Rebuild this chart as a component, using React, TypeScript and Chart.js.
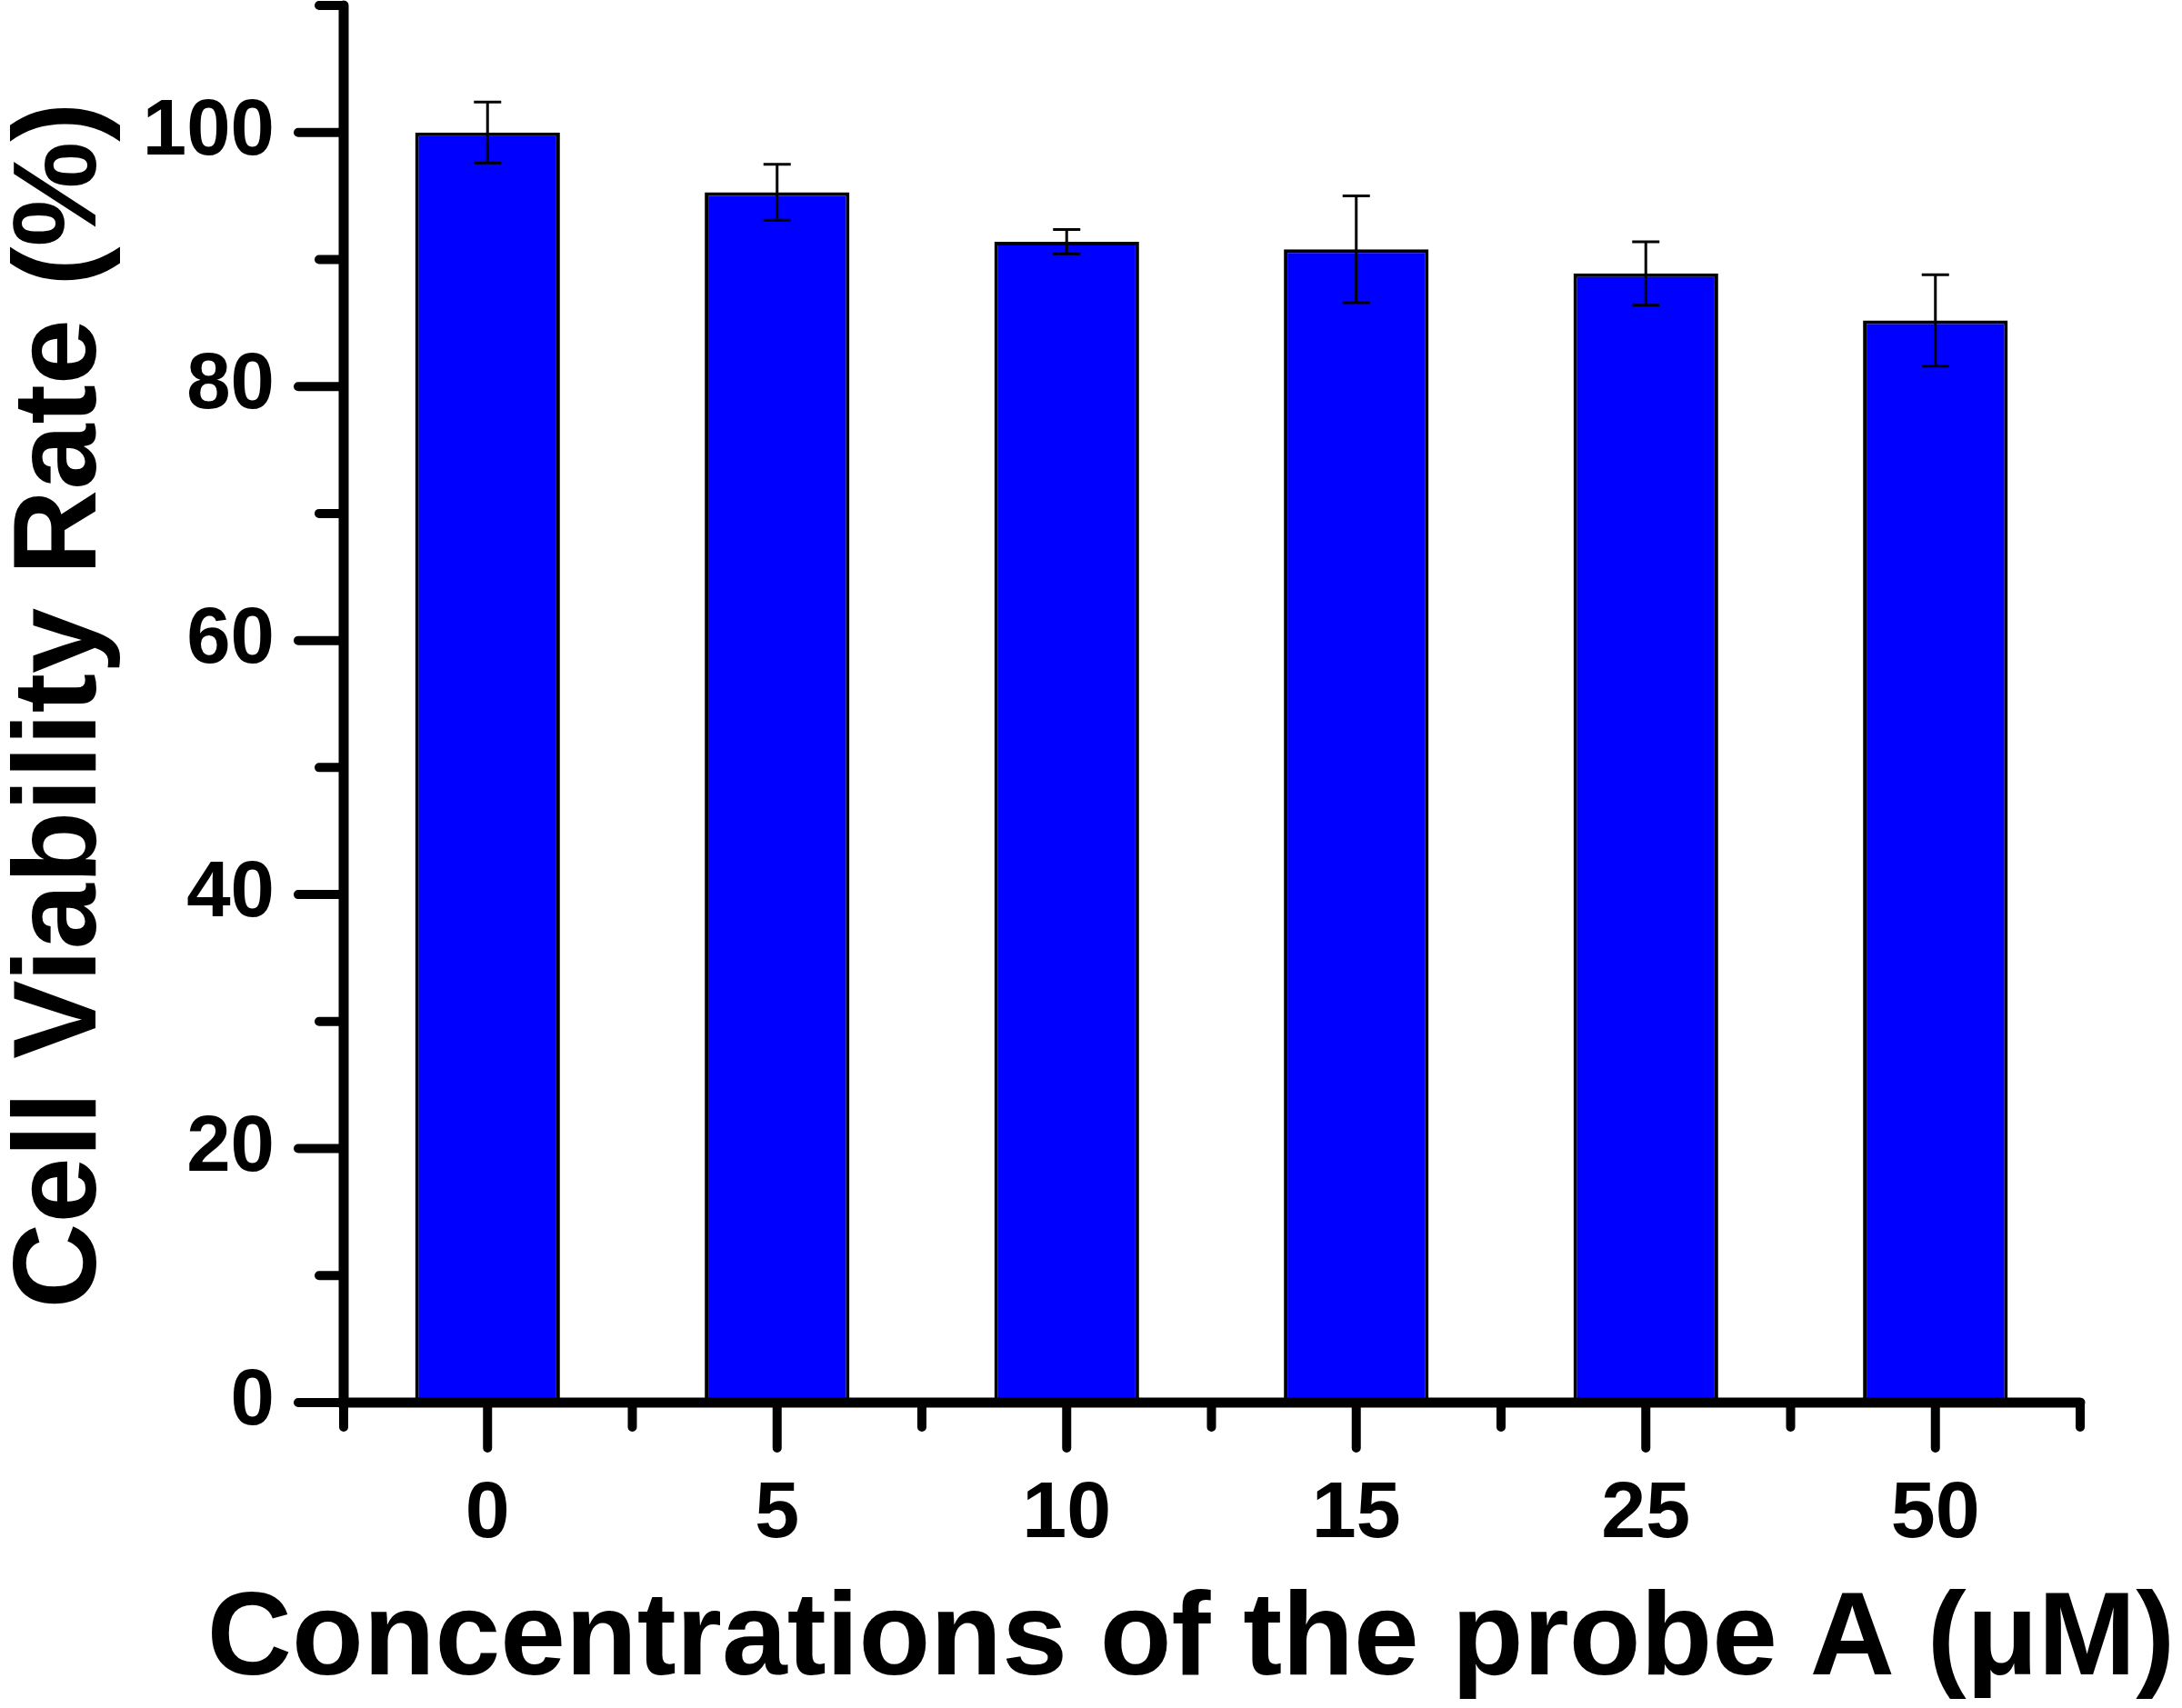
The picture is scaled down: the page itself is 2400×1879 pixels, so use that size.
import React, { useEffect, useRef } from 'react';
import { Chart, registerables } from 'chart.js';

Chart.register(...registerables);

const categories = ['0', '5', '10', '15', '25', '50'];
const viability = [100, 95.3, 91.4, 90.8, 88.9, 85.2];
const errors = [2.4, 2.2, 0.95, 4.2, 2.5, 3.6];
const yMajorTicks = [0, 20, 40, 60, 80, 100];
const yMinorTicks = [10, 30, 50, 70, 90, 110];
const xTitle = 'Concentrations of the probe A (\u03bcM)';
const yTitle = 'Cell Viability Rate (%)';

const FONT = '"Liberation Sans", Arial, sans-serif';

const customPlugin = {
  id: 'customAxesAndErrors',
  afterDatasetsDraw(chart: any) {
    const ctx = chart.ctx;
    const xs = chart.scales.x;
    const ys = chart.scales.y;
    const area = chart.chartArea;
    ctx.save();
    // error bars
    const meta = chart.getDatasetMeta(0);
    ctx.strokeStyle = '#000';
    ctx.lineWidth = 3;
    ctx.lineCap = 'butt';
    meta.data.forEach((bar: any, i: number) => {
      const v = viability[i];
      const e = errors[i];
      const yt = ys.getPixelForValue(v + e);
      const yb = ys.getPixelForValue(v - e);
      const cx = bar.x;
      const cap = 15;
      ctx.beginPath();
      ctx.moveTo(cx, yt);
      ctx.lineTo(cx, yb);
      ctx.moveTo(cx - cap, yt);
      ctx.lineTo(cx + cap, yt);
      ctx.moveTo(cx - cap, yb);
      ctx.lineTo(cx + cap, yb);
      ctx.stroke();
    });

    // axes
    const x0 = area.left + 1;
    const y0 = ys.getPixelForValue(0);
    const yTop = ys.getPixelForValue(110);
    const major = 50;
    const minor = 27;
    ctx.lineCap = 'round';
    ctx.lineWidth = 11;
    ctx.beginPath();
    ctx.moveTo(x0, yTop);
    ctx.lineTo(x0, y0);
    ctx.lineTo(area.right, y0);
    ctx.stroke();

    ctx.lineWidth = 10;
    ctx.beginPath();
    yMajorTicks.forEach((v) => {
      const py = ys.getPixelForValue(v);
      ctx.moveTo(x0, py);
      ctx.lineTo(x0 - major, py);
    });
    yMinorTicks.forEach((v) => {
      const py = ys.getPixelForValue(v);
      ctx.moveTo(x0, py);
      ctx.lineTo(x0 - minor, py);
    });
    categories.forEach((_, i) => {
      const px = xs.getPixelForValue(i);
      ctx.moveTo(px, y0);
      ctx.lineTo(px, y0 + major);
    });
    for (let i = 0; i <= categories.length; i++) {
      const px = i === 0 ? x0 : xs.getPixelForValue(i - 0.5);
      ctx.moveTo(px, y0);
      ctx.lineTo(px, y0 + minor);
    }
    ctx.stroke();

    // titles
    ctx.fillStyle = '#000';
    ctx.font = `bold 129px ${FONT}`;
    ctx.textAlign = 'center';
    ctx.textBaseline = 'alphabetic';
    ctx.fillText(xTitle, 1310, 1842);

    ctx.save();
    ctx.translate(105, 776);
    ctx.rotate(-Math.PI / 2);
    ctx.font = `bold 130px ${FONT}`;
    ctx.fillText(yTitle, 0, 0);
    ctx.restore();

    ctx.restore();
  },
};

export default function App() {
  const ref = useRef<HTMLCanvasElement>(null);

  useEffect(() => {
    if (!ref.current) return;
    const chart = new Chart(ref.current, {
      type: 'bar',
      data: {
        labels: categories,
        datasets: [
          {
            label: 'Cell viability',
            data: viability,
            backgroundColor: '#0000FF',
            borderColor: '#000000',
            borderWidth: 4,
            barPercentage: 0.5,
            categoryPercentage: 1,
          },
        ],
      },
      options: {
        responsive: false,
        animation: false,
        devicePixelRatio: 1,
        layout: { padding: { top: 6, right: 112, left: 0, bottom: 0 } },
        plugins: {
          legend: { display: false },
          tooltip: { enabled: false },
          title: { display: false },
        },
        scales: {
          x: {
            type: 'category',
            offset: true,
            grid: { display: false, drawTicks: false },
            border: { display: false },
            ticks: {
              color: '#000',
              padding: 71,
              maxRotation: 0,
              font: { family: FONT, size: 88, weight: 'bold' },
            },
            afterFit: (scale: any) => {
              scale.height = 336;
              scale.paddingLeft = 0;
              scale.paddingRight = 0;
            },
          },
          y: {
            type: 'linear',
            min: 0,
            max: 110,
            grid: { display: false, drawTicks: false },
            border: { display: false },
            ticks: {
              color: '#000',
              padding: 75,
              font: { family: FONT, size: 87, weight: 'bold' },
            },
            afterBuildTicks: (scale: any) => {
              scale.ticks = yMajorTicks.map((v) => ({ value: v }));
            },
            afterFit: (scale: any) => {
              scale.width = 377;
              scale.paddingTop = 0;
              scale.paddingBottom = 0;
            },
          },
        },
      },
      plugins: [customPlugin],
    });
    return () => chart.destroy();
  }, []);

  return (
    <div style={{ position: 'fixed', left: 0, top: 0, width: 2400, height: 1879, background: '#fff' }}>
      <canvas ref={ref} width={2400} height={1879} style={{ display: 'block', width: 2400, height: 1879 }} />
    </div>
  );
}
